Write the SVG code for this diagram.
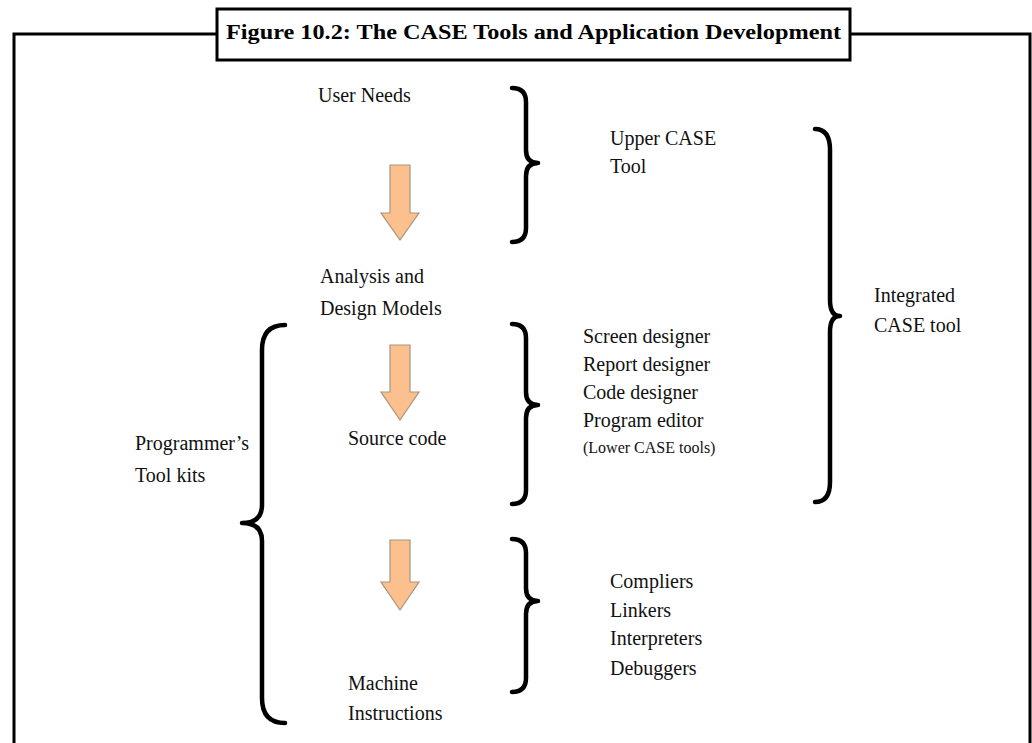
<svg xmlns="http://www.w3.org/2000/svg" width="1032" height="743" viewBox="0 0 1032 743">
<style>
.t{font-family:"Liberation Serif","Times New Roman",serif;font-size:20px;fill:#111}
.s{font-size:16px}
.title{font-family:"Liberation Serif","Times New Roman",serif;font-size:20px;font-weight:bold;fill:#000}
.br{fill:none;stroke:#000;stroke-width:4.5;stroke-linecap:round;stroke-linejoin:round}
.ar{fill:#FBC08E;stroke:#A8957E;stroke-width:1.2}
.frame{fill:none;stroke:#000;stroke-width:3}
</style>
<rect width="1032" height="743" fill="#fff"/>
<g id="frame">
<path class="frame" d="M14,745 L14,34 L1030,34 L1030,745"/>
</g>
<g id="title">
<rect x="217" y="9" width="633" height="51" fill="#fff" stroke="#000" stroke-width="3"/>
<text class="title" x="226" y="39" textLength="615" lengthAdjust="spacingAndGlyphs">Figure 10.2: The CASE Tools and Application Development</text>
</g>
<g id="connectors">
<path class="ar" d="M390,165 L410,165 L410,213 L419,213 L400,240 L381,213 L390,213 Z"/>
<path class="ar" d="M390,345 L410,345 L410,392 L419,392 L400,420 L381,392 L390,392 Z"/>
<path class="ar" d="M390,540 L410,540 L410,582 L419,582 L400,610 L381,582 L390,582 Z"/>
</g>
<g id="brace-upper">
<path class="br" d="M512,88 Q526,88 526,102 L526,150 Q526,163 538,163 Q526,163 526,176 L526,228 Q526,242 512,242"/>
</g>
<g id="brace-lower-case">
<path class="br" d="M512,324 Q526,324 526,338 L526,392 Q526,405 538,405 Q526,405 526,418 L526,490 Q526,504 512,504"/>
</g>
<g id="brace-compilers">
<path class="br" d="M512,539 Q526,539 526,553 L526,588 Q526,601 538,601 Q526,601 526,614 L526,678 Q526,692 512,692"/>
</g>
<g id="brace-integrated">
<path class="br" d="M815,129 Q830,129 830,150 L830,300 Q830,316 840,316 Q830,316 830,332 L830,482 Q830,502 815,502"/>
</g>
<g id="brace-programmer">
<path class="br" d="M285,325 Q262,325 262,350 L262,505 Q262,523 242,523 Q262,523 262,541 L262,698 Q262,723 285,723"/>
</g>
<g id="user-needs"><text class="t" x="318" y="102">User Needs</text></g>
<g id="upper-case"><text class="t" x="610" y="145">Upper CASE</text><text class="t" x="610" y="173">Tool</text></g>
<g id="analysis"><text class="t" x="320" y="283">Analysis and</text><text class="t" x="320" y="315">Design Models</text></g>
<g id="integrated"><text class="t" x="874" y="302">Integrated</text><text class="t" x="874" y="332">CASE tool</text></g>
<g id="lower-tools">
<text class="t" x="583" y="343">Screen designer</text>
<text class="t" x="583" y="371">Report designer</text>
<text class="t" x="583" y="399">Code designer</text>
<text class="t" x="583" y="427">Program editor</text>
<text class="t s" x="583" y="453">(Lower CASE tools)</text>
</g>
<g id="source-code"><text class="t" x="348" y="445">Source code</text></g>
<g id="programmer"><text class="t" x="135" y="450">Programmer’s</text><text class="t" x="135" y="482">Tool kits</text></g>
<g id="compilers">
<text class="t" x="610" y="588">Compliers</text>
<text class="t" x="610" y="617">Linkers</text>
<text class="t" x="610" y="645">Interpreters</text>
<text class="t" x="610" y="675">Debuggers</text>
</g>
<g id="machine"><text class="t" x="348" y="690">Machine</text><text class="t" x="348" y="720">Instructions</text></g>
</svg>
